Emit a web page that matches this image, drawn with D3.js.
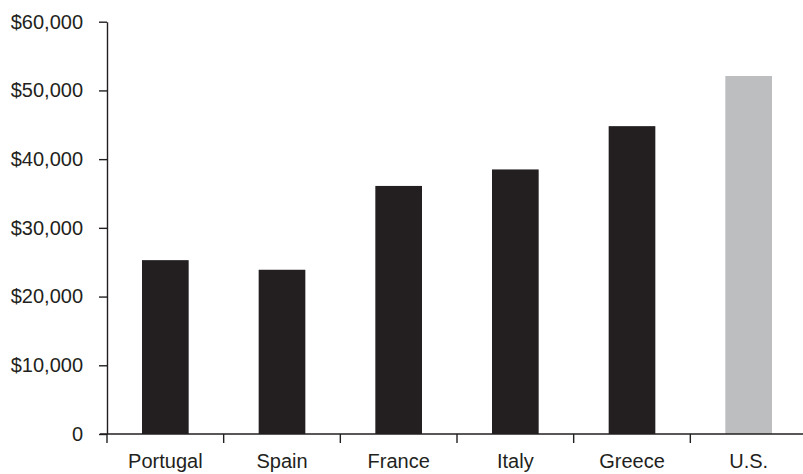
<!DOCTYPE html>
<html>
<head>
<meta charset="utf-8">
<script src="https://cdn.jsdelivr.net/npm/d3@7"></script>
<style>
  html, body { margin: 0; padding: 0; background: #fff; }
  svg { display: block; }
  text { font-family: "Liberation Sans", Arial, Helvetica, sans-serif; fill: #231f20; }
</style>
</head>
<body>
<svg id="chart" width="803" height="474"></svg>
<script>
// Per-capita figures by country
const countries = ["Portugal", "Spain", "France", "Italy", "Greece", "U.S."];
const values = [25300, 23900, 36100, 38500, 44800, 52100];
const barColors = ["#231f20", "#231f20", "#231f20", "#231f20", "#231f20", "#bcbec0"];
const yTicks = [0, 10000, 20000, 30000, 40000, 50000, 60000];

const svg = d3.select("#chart");
const ink = "#231f20";

const y = d3.scaleLinear().domain([0, 60000]).range([434, 21.7]);
const x = d3.scaleBand().domain(countries).range([107, 807])
  .paddingInner(0.6).paddingOuter(0.3);

// Bars
svg.append("g").selectAll("rect")
  .data(countries)
  .join("rect")
  .attr("x", d => x(d))
  .attr("width", x.bandwidth())
  .attr("y", (d, i) => y(values[i]))
  .attr("height", (d, i) => y(0) - y(values[i]))
  .attr("fill", (d, i) => barColors[i]);

// Y axis
const yAxis = svg.append("g")
  .attr("transform", "translate(107,0)")
  .call(d3.axisLeft(y)
    .tickValues(yTicks)
    .tickFormat(d => d === 0 ? "0" : "$" + d3.format(",")(d))
    .tickSize(8)
    .tickSizeOuter(0)
    .tickPadding(16));
yAxis.selectAll("path, line").attr("stroke", ink).attr("stroke-width", 1.4);
yAxis.selectAll("text").attr("font-size", 20).attr("fill", ink)
  .style("font-family", "'Liberation Sans', Arial, sans-serif");

// X axis baseline
svg.append("line")
  .attr("x1", 100).attr("x2", 803)
  .attr("y1", y(0)).attr("y2", y(0))
  .attr("stroke", ink).attr("stroke-width", 1.4);

// Category boundary ticks
const step = x.step();
const bounds = countries.map((d, i) => 107 + i * step);
svg.append("g").selectAll("line")
  .data(bounds)
  .join("line")
  .attr("x1", d => d).attr("x2", d => d)
  .attr("y1", y(0)).attr("y2", y(0) + 9)
  .attr("stroke", ink).attr("stroke-width", 1.4);

// Category labels
const xAxis = svg.append("g")
  .attr("transform", `translate(0,${y(0)})`)
  .call(d3.axisBottom(x).tickSize(0).tickPadding(20));
xAxis.select(".domain").remove();
xAxis.selectAll("text").attr("font-size", 20).attr("fill", ink)
  .style("font-family", "'Liberation Sans', Arial, sans-serif");
</script>
</body>
</html>
